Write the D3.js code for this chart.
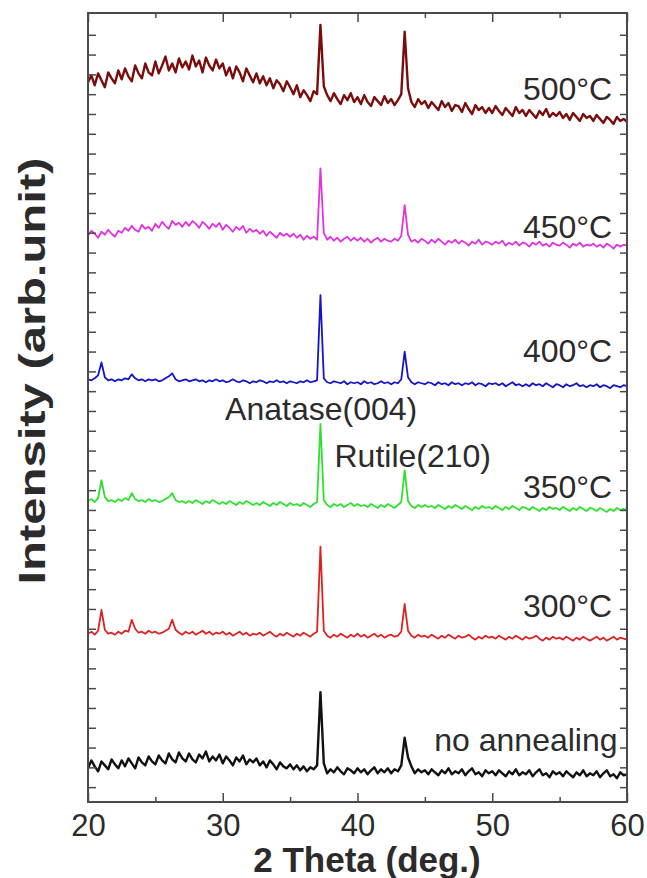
<!DOCTYPE html>
<html>
<head>
<meta charset="utf-8">
<script src="https://cdnjs.cloudflare.com/ajax/libs/d3/7.8.5/d3.min.js"></script>
<style>
  body { margin: 0; background: #fff; }
  text { font-family: "Liberation Sans", Arial, sans-serif; fill: #2b2b2b; }
</style>
</head>
<body>
<script>
// XRD patterns, 2theta 20..60 deg, 0.25 deg step, curves stacked with an offset
var twoTheta = d3.range(161).map(function(i) { return 20 + i * 0.25; });

var noAnneal = [
  19, 27, 21, 16, 26, 22, 18, 28, 23, 19,
  27, 21, 29, 24, 19, 30, 25, 22, 31, 26,
  23, 32, 27, 24, 34, 28, 25, 35, 29, 26,
  34, 28, 25, 33, 29, 36, 26, 31, 27, 33,
  24, 31, 27, 22, 30, 26, 32, 23, 28, 25,
  29, 22, 26, 20, 27, 23, 18, 25, 21, 19,
  23, 18, 22, 17, 21, 16, 20, 18, 22, 96,
  24, 14, 18, 15, 20, 16, 13, 19, 17, 14,
  19, 15, 18, 13, 17, 20, 14, 18, 15, 19,
  14, 18, 16, 22, 50, 30, 21, 14, 18, 15,
  17, 13, 18, 15, 12, 17, 14, 19, 13, 16,
  14, 18, 12, 16, 19, 13, 15, 11, 17, 14,
  16, 12, 17, 14, 11, 16, 13, 18, 12, 15,
  13, 17, 11, 15, 18, 12, 14, 10, 16, 13,
  15, 11, 16, 13, 10, 15, 12, 17, 11, 14,
  12, 16, 10, 14, 17, 11, 13, 9, 15, 12,
  13
];

var t300 = [
  155, 157, 154, 158, 179, 159, 155, 156, 154, 157,
  155, 158, 157, 169, 160, 156, 157, 155, 158, 156,
  157, 155, 156, 158, 160, 169, 159, 156, 154, 157,
  155, 157, 154, 156, 158, 155, 157, 154, 156, 155,
  157, 154, 156, 153, 155, 157, 154, 156, 153, 155,
  154, 156, 153, 155, 157, 154, 152, 155, 153, 156,
  154, 152, 155, 153, 156, 154, 152, 155, 157, 243,
  158, 153, 151, 154, 152, 155, 153, 151, 154, 152,
  155, 152, 154, 151, 153, 155, 152, 154, 151, 153,
  154, 152, 153, 157, 185, 158, 153, 151, 154, 152,
  153, 151, 154, 152, 150, 153, 151, 154, 152, 150,
  153, 151, 152, 154, 151, 149, 152, 150, 153, 151,
  152, 150, 153, 151, 149, 152, 150, 153, 151, 149,
  152, 150, 151, 153, 150, 148, 151, 149, 152, 150,
  151, 149, 152, 150, 148, 151, 149, 152, 150, 148,
  150, 152, 149, 151, 148, 150, 152, 149, 151, 150,
  149
];

var t350 = [
  289, 291, 288, 292, 310, 293, 289, 290, 288, 291,
  289, 292, 290, 297, 291, 289, 290, 288, 291, 289,
  290, 288, 289, 291, 293, 297, 290, 288, 289, 287,
  289, 287, 290, 288, 286, 289, 287, 290, 288, 286,
  288, 286, 289, 287, 285, 288, 286, 289, 287, 285,
  287, 285, 288, 286, 284, 287, 285, 288, 286, 284,
  287, 285, 286, 284, 287, 285, 283, 286, 288, 367,
  290, 285, 283, 286, 284, 286, 283, 285, 287, 284,
  286, 284, 285, 283, 286, 284, 282, 285, 283, 286,
  284, 282, 285, 288, 320, 289, 284, 282, 285, 283,
  285, 283, 284, 282, 285, 283, 281, 284, 282, 285,
  283, 281, 284, 282, 280, 283, 281, 284, 282, 283,
  281, 284, 282, 280, 283, 281, 284, 282, 280, 283,
  282, 280, 283, 281, 279, 282, 280, 283, 281, 282,
  280, 283, 281, 279, 282, 280, 283, 281, 279, 282,
  281, 279, 282, 280, 278, 281, 279, 282, 280, 281,
  280
];

var t400 = [
  412, 411, 413, 416, 429, 414, 411, 412, 410, 412,
  411, 413, 412, 417, 413, 411, 412, 410, 412, 411,
  412, 410, 411, 413, 415, 418, 412, 410, 411, 412,
  410, 411, 412, 410, 411, 409, 411, 410, 412, 410,
  411, 409, 410, 412, 410, 409, 411, 410, 408, 410,
  409, 411, 410, 408, 410, 409, 411, 409, 410, 408,
  410, 409, 408, 410, 409, 411, 409, 410, 411, 497,
  413, 409, 408, 410, 409, 408, 410, 407, 409, 408,
  409, 407, 410, 408, 409, 407, 408, 410, 408, 409,
  407, 409, 408, 412, 440, 414, 409, 407, 409, 408,
  407, 409, 408, 406, 409, 407, 408, 406, 409, 407,
  408, 406, 408, 407, 409, 406, 408, 407, 405, 408,
  407, 408, 406, 408, 405, 407, 409, 406, 407, 405,
  407, 405, 408, 406, 407, 405, 408, 406, 404, 407,
  406, 404, 407, 405, 406, 408, 405, 406, 404, 406,
  405, 407, 404, 406, 405, 403, 406, 405, 404, 406,
  405
];

var t450 = [
  557, 562, 559, 555, 561, 558, 563, 559, 556, 562,
  560, 565, 562, 567, 563, 561, 568, 564, 566, 562,
  569, 565, 571, 567, 564, 572, 568, 570, 566, 571,
  567, 572, 569, 565, 571, 568, 564, 569, 566, 570,
  563, 568, 565, 561, 566, 563, 567, 560, 564, 561,
  563, 559, 562, 557, 561, 558, 555, 560, 557, 559,
  556, 559, 555, 558, 553, 557, 554, 556, 553, 625,
  560, 553, 556, 552, 555, 551, 554, 556, 552, 555,
  552, 555, 551, 554, 550, 553, 555, 551, 554, 552,
  551, 554, 552, 557, 588, 558, 551, 553, 550, 554,
  552, 549, 553, 550, 554, 551, 548, 552, 550, 553,
  549, 552, 550, 547, 551, 549, 553, 548, 551, 550,
  548, 551, 549, 552, 547, 550, 548, 551, 547, 550,
  549, 546, 550, 548, 551, 547, 549, 546, 550, 548,
  547, 550, 548, 545, 549, 547, 550, 546, 548, 547,
  549, 546, 548, 545, 549, 547, 544, 548, 546, 548,
  547
];

var t500 = [
  712, 719, 709, 721, 714, 707, 722, 716, 711, 724,
  715, 726, 718, 713, 729, 721, 716, 731, 722, 719,
  733, 721, 729, 738, 724, 731, 722, 736, 727, 733,
  725, 739, 728, 734, 722, 737, 729, 724, 735, 726,
  731, 719, 727, 716, 728, 722, 713, 726, 719, 712,
  721, 711, 718, 709, 716, 706, 714, 710, 703, 713,
  707, 700, 709, 697, 704, 699, 693, 703, 700, 770,
  708, 699, 693, 701, 695, 690, 699, 694, 701, 692,
  697, 690, 699, 692, 688, 697, 693, 689, 698, 691,
  695, 689, 694, 700, 763, 706, 692, 687, 695, 690,
  693, 686, 692, 688, 684, 693, 687, 691, 683, 689,
  688, 682, 691, 685, 680, 689, 684, 687, 681, 686,
  681, 688, 683, 679, 686, 682, 678, 687, 681, 684,
  678, 684, 680, 676, 683, 679, 685, 677, 681, 678,
  682, 676, 680, 674, 681, 677, 673, 680, 676, 678,
  673, 679, 675, 671, 677, 674, 670, 677, 673, 675,
  672
];

var seriesNames = ["no annealing", "300\u00b0C", "350\u00b0C", "400\u00b0C", "450\u00b0C", "500\u00b0C"];
var seriesValues = [noAnneal, t300, t350, t400, t450, t500];
var seriesColors = ["#111111", "#dd2222", "#2fe02f", "#1414c8", "#e033e0", "#7a0c0c"];

var xTicks = [20, 30, 40, 50, 60];
var xMinorTicks = [25, 35, 45, 55];
var yTicks = d3.range(0, 761, 20);

var width = 647, height = 878;
var margin = {top: 13, right: 20, bottom: 76, left: 88};
var plotW = width - margin.left - margin.right;
var plotH = height - margin.top - margin.bottom;

var x = d3.scaleLinear().domain([20, 60]).range([0, plotW]);
var y = d3.scaleLinear().domain([-15, 782]).range([plotH, 0]);

var svg = d3.select("body").append("svg")
  .attr("width", width)
  .attr("height", height);

var g = svg.append("g")
  .attr("transform", "translate(" + margin.left + "," + margin.top + ")");

g.append("clipPath").attr("id", "clip")
  .append("rect").attr("width", plotW).attr("height", plotH);

var line = d3.line()
  .x(function(d, i) { return x(twoTheta[i]); })
  .y(function(d) { return y(d); });

// noisy traces: the broad-hump ones are drawn heavier
g.append("g").attr("clip-path", "url(#clip)")
  .selectAll("path")
  .data(seriesValues)
  .enter().append("path")
    .attr("d", line)
    .attr("fill", "none")
    .attr("stroke", function(d, i) { return seriesColors[i]; })
    .attr("stroke-width", function(d, i) { return (i === 0 || i === 5) ? 2.4 : 1.8; })
    .attr("stroke-linejoin", "round");

// axes, ticks point inward
function styleAxis(sel) {
  sel.select(".domain").remove();
  sel.selectAll("line").attr("stroke", "#4a4a4a").attr("stroke-width", 1.5);
  sel.selectAll("text")
    .attr("font-family", "Liberation Sans, Arial, sans-serif")
    .attr("font-size", 31)
    .attr("fill", "#2b2b2b");
}

g.append("g").attr("transform", "translate(0," + plotH + ")")
  .call(d3.axisBottom(x).tickValues(xTicks).tickSizeInner(-9).tickSizeOuter(0).tickPadding(12).tickFormat(d3.format("d")))
  .call(styleAxis);
g.append("g").attr("transform", "translate(0," + plotH + ")")
  .call(d3.axisBottom(x).tickValues(xMinorTicks).tickSize(-5).tickFormat(""))
  .call(styleAxis);
g.append("g")
  .call(d3.axisTop(x).tickValues(xTicks).tickSize(-9).tickFormat(""))
  .call(styleAxis);
g.append("g")
  .call(d3.axisTop(x).tickValues(xMinorTicks).tickSize(-5).tickFormat(""))
  .call(styleAxis);
g.append("g")
  .call(d3.axisLeft(y).tickValues(yTicks).tickSize(-8).tickFormat(""))
  .call(styleAxis);
g.append("g").attr("transform", "translate(" + plotW + ",0)")
  .call(d3.axisRight(y).tickValues(yTicks).tickSize(-7).tickFormat(""))
  .call(styleAxis);

g.append("rect")
  .attr("width", plotW).attr("height", plotH)
  .attr("fill", "none")
  .attr("stroke", "#4a4a4a")
  .attr("stroke-width", 2);

// curve labels, right-aligned near the right edge
var labelY = [37, 172, 292, 429, 555, 694];
g.selectAll(".curve-label")
  .data(seriesNames)
  .enter().append("text")
    .attr("class", "curve-label")
    .attr("x", function(d, i) { return x(i === 0 ? 59.3 : 58.9); })
    .attr("y", function(d, i) { return y(labelY[i]); })
    .attr("text-anchor", "end")
    .attr("font-size", 32)
    .text(function(d) { return d; });

// peak labels
g.append("text")
  .attr("x", x(37.3)).attr("y", y(371))
  .attr("text-anchor", "middle")
  .attr("font-size", 32)
  .text("Anatase(004)");
g.append("text")
  .attr("x", x(44.1)).attr("y", y(323))
  .attr("text-anchor", "middle")
  .attr("font-size", 32)
  .text("Rutile(210)");

// axis titles
svg.append("text")
  .attr("x", 367).attr("y", 872)
  .attr("text-anchor", "middle")
  .attr("font-size", 35)
  .attr("font-weight", "bold")
  .text("2 Theta (deg.)");

svg.append("text")
  .attr("transform", "translate(45,371) rotate(-90)")
  .attr("text-anchor", "middle")
  .attr("font-size", 37)
  .attr("font-weight", "bold")
  .attr("textLength", 427)
  .attr("lengthAdjust", "spacingAndGlyphs")
  .text("Intensity (arb.unit)");
</script>
</body>
</html>
